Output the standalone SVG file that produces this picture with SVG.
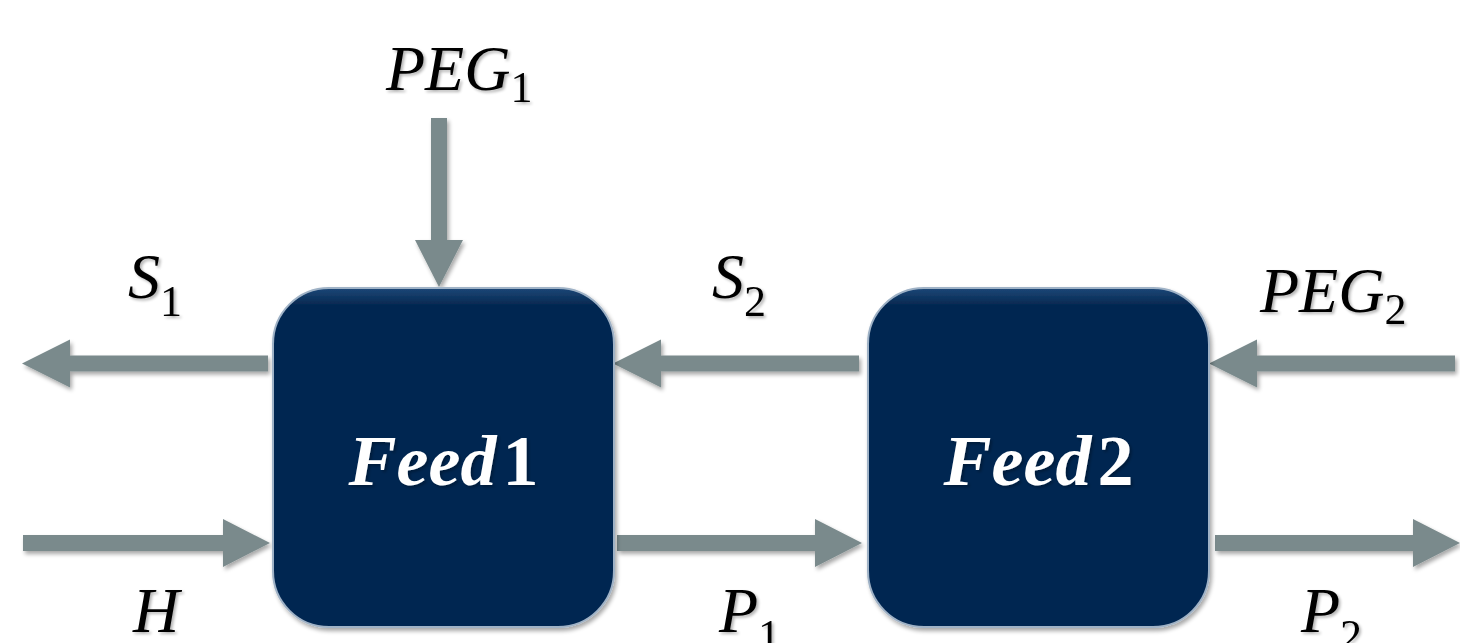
<svg xmlns="http://www.w3.org/2000/svg" width="1460" height="643" viewBox="0 0 1460 643">
  <defs>
    <filter id="sh" x="-10%" y="-10%" width="130%" height="130%">
      <feGaussianBlur in="SourceAlpha" stdDeviation="2"/>
      <feOffset dx="2" dy="3" result="b"/>
      <feComponentTransfer><feFuncA type="linear" slope="0.35"/></feComponentTransfer>
      <feMerge><feMergeNode/><feMergeNode in="SourceGraphic"/></feMerge>
    </filter>
    <filter id="tsh" x="-10%" y="-10%" width="130%" height="130%">
      <feGaussianBlur in="SourceAlpha" stdDeviation="1.5"/>
      <feOffset dx="2" dy="2"/>
      <feComponentTransfer><feFuncA type="linear" slope="0.3"/></feComponentTransfer>
      <feMerge><feMergeNode/><feMergeNode in="SourceGraphic"/></feMerge>
    </filter>
    <linearGradient id="bev" x1="0" y1="0" x2="0" y2="1">
      <stop offset="0" stop-color="#1d4878"/>
      <stop offset="0.05" stop-color="#052851"/>
      <stop offset="1" stop-color="#052851"/>
    </linearGradient>
  </defs>
  <style>
    .arrow { fill: #7a8a8c; filter: url(#sh); }
    .box { fill: url(#bev); stroke: #9fb2c6; stroke-width: 2; filter: url(#sh); }
    .lbl { font-family: "Liberation Serif", "DejaVu Serif", serif; font-style: italic; font-size: 64px; fill: #000; filter: url(#tsh); }
    .sub { font-style: normal; font-size: 44px; }
    .name { font-family: "Liberation Serif", "DejaVu Serif", serif; font-weight: bold; font-size: 72px; fill: #fff; filter: url(#tsh); }
  </style>

  <g id="connectors">
    <polygon id="peg1-arrow" class="arrow" points="431,118 447,118 447,240 463,240 439,287 415,240 431,240"/>
    <polygon id="s1-arrow" class="arrow" points="268,355.5 268,371.5 70,371.5 70,387.5 22,363.5 70,339.5 70,355.5"/>
    <polygon id="h-arrow" class="arrow" points="23,535 223,535 223,519 270,543 223,567 223,551 23,551"/>
    <polygon id="s2-arrow" class="arrow" points="859,355.5 859,371.5 661,371.5 661,387.5 613,363.5 661,339.5 661,355.5"/>
    <polygon id="p1-arrow" class="arrow" points="617,535 815,535 815,519 862,543 815,567 815,551 617,551"/>
    <polygon id="peg2-arrow" class="arrow" points="1455,355.5 1455,371.5 1257,371.5 1257,387.5 1209,363.5 1257,339.5 1257,355.5"/>
    <polygon id="p2-arrow" class="arrow" points="1215,535 1413,535 1413,519 1460,543 1413,567 1413,551 1215,551"/>
  </g>

  <g id="feed1">
    <rect class="box" x="273" y="288" width="341" height="339" rx="56" ry="56"/>
    <text class="name" x="443.5" y="485" text-anchor="middle"><tspan font-style="italic">Feed</tspan><tspan dx="6">1</tspan></text>
  </g>

  <g id="feed2">
    <rect class="box" x="868" y="288" width="341" height="339" rx="56" ry="56"/>
    <text class="name" x="1038.5" y="485" text-anchor="middle"><tspan font-style="italic">Feed</tspan><tspan dx="6">2</tspan></text>
  </g>

  <g id="labels">
    <text class="lbl" x="386" y="90">PEG<tspan class="sub" dx="0" dy="12">1</tspan></text>
    <text class="lbl" x="128" y="298">S<tspan class="sub" dx="0" dy="18">1</tspan></text>
    <text class="lbl" x="712" y="298">S<tspan class="sub" dx="0" dy="18">2</tspan></text>
    <text class="lbl" x="1260" y="312">PEG<tspan class="sub" dx="0" dy="12">2</tspan></text>
    <text class="lbl" x="133" y="632">H</text>
    <text class="lbl" x="719" y="632">P<tspan class="sub" dx="0" dy="18">1</tspan></text>
    <text class="lbl" x="1301" y="632">P<tspan class="sub" dx="0" dy="18">2</tspan></text>
  </g>
</svg>
